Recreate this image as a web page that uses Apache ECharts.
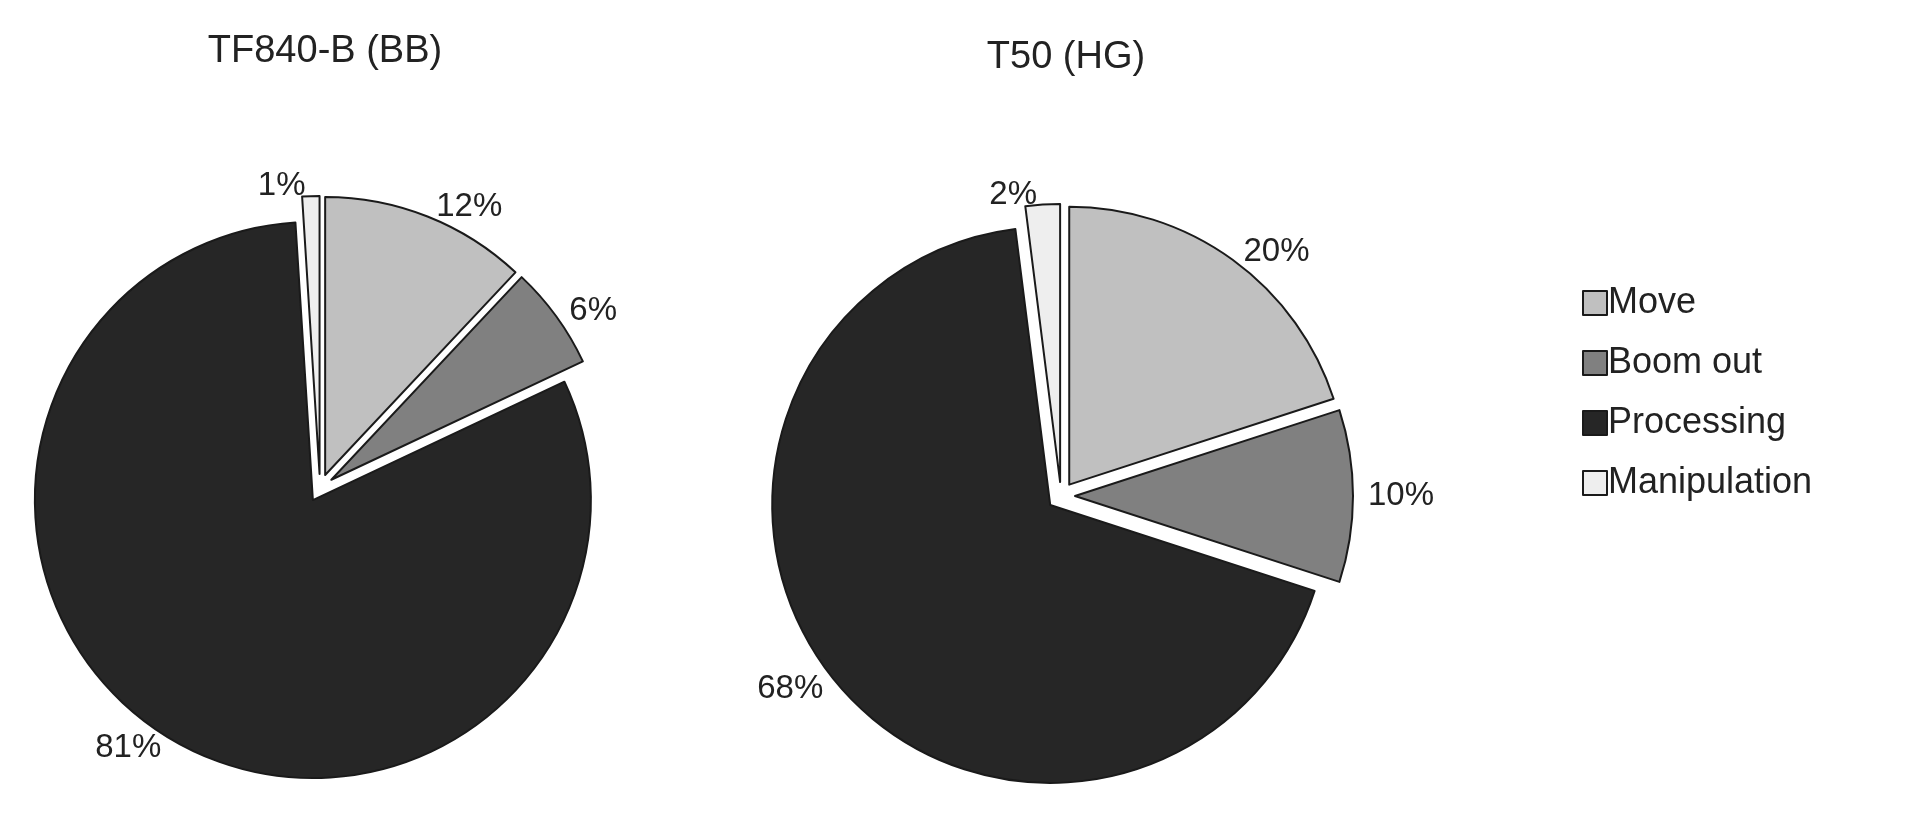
<!DOCTYPE html>
<html>
<head>
<meta charset="utf-8">
<title>pies</title>
<script src="https://cdn.jsdelivr.net/npm/echarts@6/dist/echarts.min.js"></script>
<style>html,body{margin:0;padding:0;background:#fff}#main{width:1913px;height:822px}</style>
</head>
<body>
<div id="main"></div>
<script>
// categories and values
var categories = ['Move', 'Boom out', 'Processing', 'Manipulation'];
var colors = ['#c0c0c0', '#808080', '#262626', '#eeeeee'];
var bbValues = [12, 6, 81, 1];
var hgValues = [20, 10, 68, 2];
var titles = ['TF840-B (BB)', 'T50 (HG)'];

var font = 'Liberation Sans, Arial, sans-serif';

function makeData(vals) {
	return categories.map(function (c, i) {
		return { name: c, value: vals[i], selected: true, itemStyle: { color: colors[i] } };
	});
}

function makePie(vals, center) {
	return {
		type: 'pie',
		center: center,
		radius: 278,
		startAngle: 90,
		selectedMode: 'multiple',
		selectedOffset: 14,
		animation: false,
		itemStyle: { borderColor: '#1a1a1a', borderWidth: 2 },
		label: {
			position: 'outside',
			formatter: '{c}%',
			fontFamily: font,
			fontSize: 33,
			color: '#222'
		},
		labelLine: { show: false, length: 10, length2: 0 },
		emphasis: { scale: false },
		data: makeData(vals)
	};
}

var chart = echarts.init(document.getElementById('main'));
chart.setOption({
	backgroundColor: '#fff',
	title: [
		{ text: titles[0], left: 320, top: 28, textAlign: 'center', textStyle: { fontFamily: font, fontSize: 38, fontWeight: 'normal', color: '#222' } },
		{ text: titles[1], left: 1061, top: 34, textAlign: 'center', textStyle: { fontFamily: font, fontSize: 38, fontWeight: 'normal', color: '#222' } }
	],
	legend: {
		orient: 'vertical',
		left: 1577,
		top: 280,
		itemWidth: 24,
		itemHeight: 24,
		itemGap: 24,
		icon: 'rect',
		itemStyle: { borderColor: '#1a1a1a', borderWidth: 2 },
		selectedMode: false,
		textStyle: { fontFamily: font, fontSize: 36, color: '#222', padding: [0, 0, 0, -4] },
		data: categories
	},
	series: [
		makePie(bbValues, [320, 488]),
		makePie(hgValues, [1061, 496])
	]
});
</script>
</body>
</html>
